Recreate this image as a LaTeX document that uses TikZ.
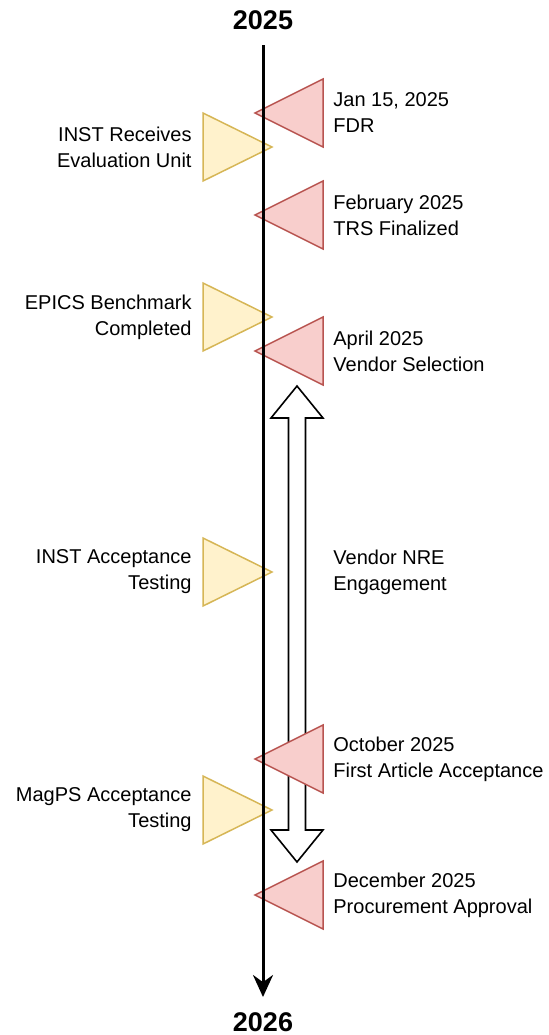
\documentclass[tikz,border=0pt]{standalone}
\usepackage{fontspec}
\setmainfont{Liberation Sans}
\usetikzlibrary{arrows.meta}

\definecolor{redfill}{HTML}{F8CECC}
\definecolor{redline}{HTML}{B85450}
\definecolor{yelfill}{HTML}{FFF2CC}
\definecolor{yelline}{HTML}{D6B656}

\begin{document}
\begin{tikzpicture}[x=0.5pt,y=-0.5pt,
    redtri/.style={fill=redfill,draw=redline,line width=0.75pt},
    yeltri/.style={fill=yelfill,draw=yelline,line width=0.75pt},
    rlabel/.style={anchor=west,align=left,inner sep=0pt,font=\fontsize{10}{13}\selectfont},
    llabel/.style={anchor=east,align=right,inner sep=0pt,font=\fontsize{10}{13}\selectfont},
    yearlabel/.style={font=\fontsize{13.5}{15}\selectfont\bfseries}]

  \useasboundingbox (0,0) rectangle (549,1035);

  % ========== NRE span ==========
  \draw[fill=white,line width=0.8pt,line join=miter]
    (297,386) -- (323,418) -- (305.5,418) -- (305.5,830) -- (323,830) -- (297,862)
    -- (271,830) -- (288.5,830) -- (288.5,418) -- (271,418) -- cycle;
  \node[rlabel] (nre) at (333,572) {Vendor NRE\\Engagement};

  % ========== Vendor milestones (right) ==========
  \begin{scope}[yshift=-56.5pt]
    \draw[redtri] (323,-34) -- (255,0) -- (323,34) -- cycle;
    \node[rlabel] (fdr) at (333,0) {Jan 15, 2025\\FDR};
  \end{scope}

  \begin{scope}[yshift=-107.5pt]
    \draw[redtri] (323,-34) -- (255,0) -- (323,34) -- cycle;
    \node[rlabel] (trs) at (333,0) {February 2025\\TRS Finalized};
  \end{scope}

  \begin{scope}[yshift=-175.5pt]
    \draw[redtri] (323,-34) -- (255,0) -- (323,34) -- cycle;
    \node[rlabel] (vsel) at (333,0) {April 2025\\Vendor Selection};
  \end{scope}

  \begin{scope}[yshift=-379.5pt]
    \draw[redtri] (323,-34) -- (255,0) -- (323,34) -- cycle;
    \node[rlabel] (faa) at (333,0) {October 2025\\First Article Acceptance};
  \end{scope}

  \begin{scope}[yshift=-447.5pt]
    \draw[redtri] (323,-34) -- (255,0) -- (323,34) -- cycle;
    \node[rlabel] (proc) at (333,0) {December 2025\\Procurement Approval};
  \end{scope}

  % ========== INST milestones (left) ==========
  \begin{scope}[yshift=-73.5pt]
    \draw[yeltri] (203,-34) -- (272,0) -- (203,34) -- cycle;
    \node[llabel] (evalunit) at (192,0) {INST Receives\\Evaluation Unit};
  \end{scope}

  \begin{scope}[yshift=-158.5pt]
    \draw[yeltri] (203,-34) -- (272,0) -- (203,34) -- cycle;
    \node[llabel] (epics) at (192,0) {EPICS Benchmark\\Completed};
  \end{scope}

  \begin{scope}[yshift=-286pt]
    \draw[yeltri] (203,-34) -- (272,0) -- (203,34) -- cycle;
    \node[llabel] (instacc) at (192,0) {INST Acceptance\\Testing};
  \end{scope}

  \begin{scope}[yshift=-405pt]
    \draw[yeltri] (203,-34) -- (272,0) -- (203,34) -- cycle;
    \node[llabel] (magps) at (192,0) {MagPS Acceptance\\Testing};
  \end{scope}

  % ========== Time axis ==========
  \node[yearlabel] (y2025) at (263,20) {2025};
  \node[yearlabel] (y2026) at (263,1022) {2026};
  \coordinate (axtop) at (263,45);
  \coordinate (axbot) at (263,997);
  \draw[line width=1.5pt,-{Stealth[length=11pt,width=10pt]}] (axtop) -- (axbot);

\end{tikzpicture}
\end{document}
